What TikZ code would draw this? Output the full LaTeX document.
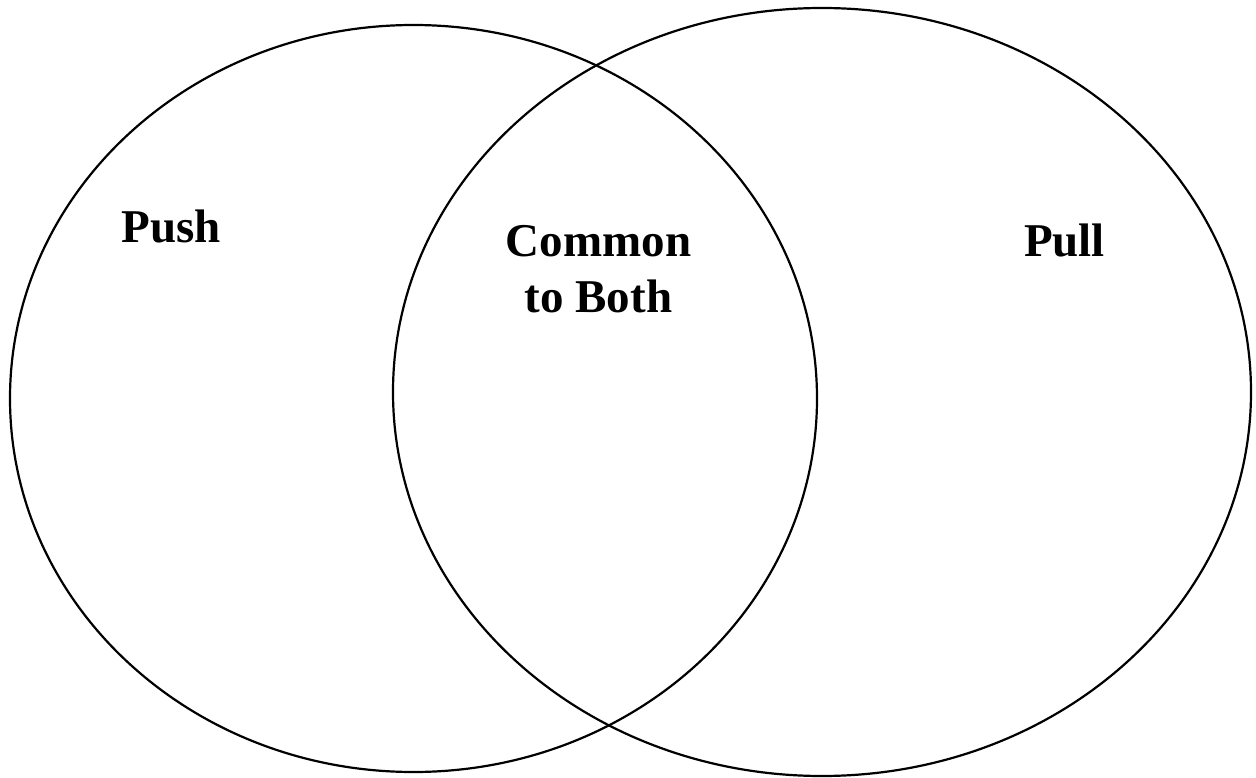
\documentclass[tikz,border=0pt]{standalone}
\usepackage{fontspec}
\setmainfont{Liberation Serif}
\usetikzlibrary{shapes.geometric}
\begin{document}
\begin{tikzpicture}[x=1pt, y=-1pt, font=\fontsize{47}{55}\selectfont\bfseries]
      \useasboundingbox (0,0) rectangle (1256,778);
      % Sets
      \node[draw, ellipse, line width=2.2pt, inner sep=0pt, minimum width=807pt, minimum height=747pt] (pushset) at (413.5,398.5) {};
      \node[draw, ellipse, line width=2.2pt, inner sep=0pt, minimum width=858pt, minimum height=768pt] (pullset) at (822,392) {};

      % Labels
      \node[anchor=base, inner sep=0pt] (pushlabel) at (171.5,243) {Push};
      \node[anchor=base, inner sep=0pt, align=center] (commonlabel) at (598.5,312) {Common\\to Both};
      \node[anchor=base, inner sep=0pt] (pulllabel) at (1064.5,257) {Pull};
    \end{tikzpicture}
\end{document}
